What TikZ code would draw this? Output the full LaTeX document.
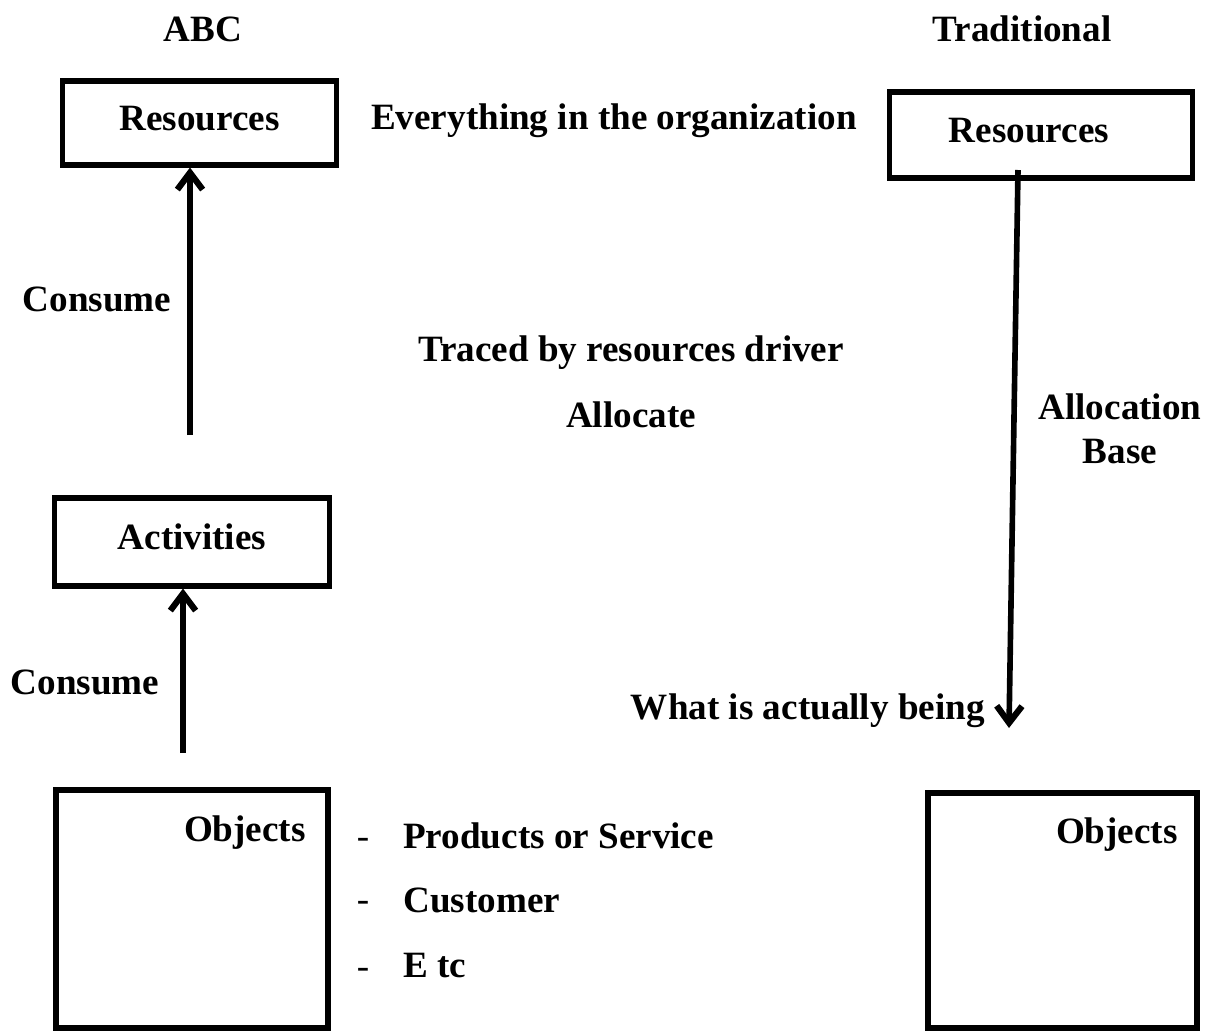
\documentclass[tikz,border=0pt]{standalone}
\usepackage{fontspec}
\setmainfont{Liberation Serif}
\usetikzlibrary{arrows.meta,positioning,calc}
\tikzset{
  box/.style={draw=black,line width=3.6pt,minimum width=6.83cm,minimum height=2.1cm,
              font=\fontsize{26.4}{31}\selectfont\bfseries,text centered,text depth=0.25cm},
  objbox/.style={draw=black,line width=3.8pt,minimum width=6.8cm,minimum height=5.95cm},
  lbl/.style={font=\fontsize{26.4}{31}\selectfont\bfseries,inner sep=0pt},
  bullet/.style={font=\fontsize{26.4}{31}\selectfont,inner sep=0pt},
  arr/.style={-{Straight Barb[length=12pt,width=18pt,line width=4.4pt]},line width=4pt},
}
\begin{document}
\begin{tikzpicture}[x=0.025cm,y=-0.025cm]
  \useasboundingbox (0,0) rectangle (1206,1034);
  % column titles
  \node[lbl] (abc) at (203,29) {ABC};
  \node[lbl] (trad) at (1022,29) {Traditional};

  % ABC side
  \node[box] (resL) at (199.5,123) {Resources};
  \node[box, minimum width=6.85cm, minimum height=2.2cm] (act) at (192,542) {Activities};
  \node[objbox] (objL) at (192,909) {};
  \node[lbl, anchor=north east] (objLt) at (306,815) {Objects};

  \coordinate (tail1) at (190,435);
  \draw[arr] (tail1) -- (tail1 |- resL.south);
  \coordinate (tail2) at (183,753);
  \draw[arr] (tail2) -- (tail2 |- act.south);

  \node[lbl] (cons1) at (97,299) {Consume};
  \node[lbl] (cons2) at (85,682) {Consume};

  % middle texts
  \node[lbl] (every) at (614,121) {Everything in the organization};
  \node[lbl] (traced) at (631,353) {Traced by resources driver};
  \node[lbl] (alloc) at (631,415) {Allocate};
  \node[lbl, anchor=east] (what) at (985,711) {What is actually being};

  % list of objects
  \node[bullet] (d1) at (363,843) {-};
  \node[bullet] (d2) at (363,906) {-};
  \node[bullet] (d3) at (363,973) {-};
  \node[lbl, anchor=west] (prod) at (403,836) {Products or Service};
  \node[lbl, anchor=west] (cust) at (403,900) {Customer};
  \node[lbl, anchor=west] (etc) at (403,966) {E tc};

  % Traditional side
  \node[box, minimum width=7.55cm, minimum height=2.15cm, text width=7cm, align=left] (resR) at (1041,135) {\hspace{1.2cm}Resources};
  \node[objbox, minimum width=6.73cm, minimum height=5.88cm] (objR) at (1062.5,910.5) {};
  \node[lbl, anchor=north east] (objRt) at (1178,817) {Objects};

  \coordinate (top3) at (1018,170);
  \coordinate (tip3) at (1009,728);
  \draw[arr] (top3) -- (tip3);
  \node[lbl, align=center] (base) at (1120,429) {Allocation\\Base};
\end{tikzpicture}
\end{document}
